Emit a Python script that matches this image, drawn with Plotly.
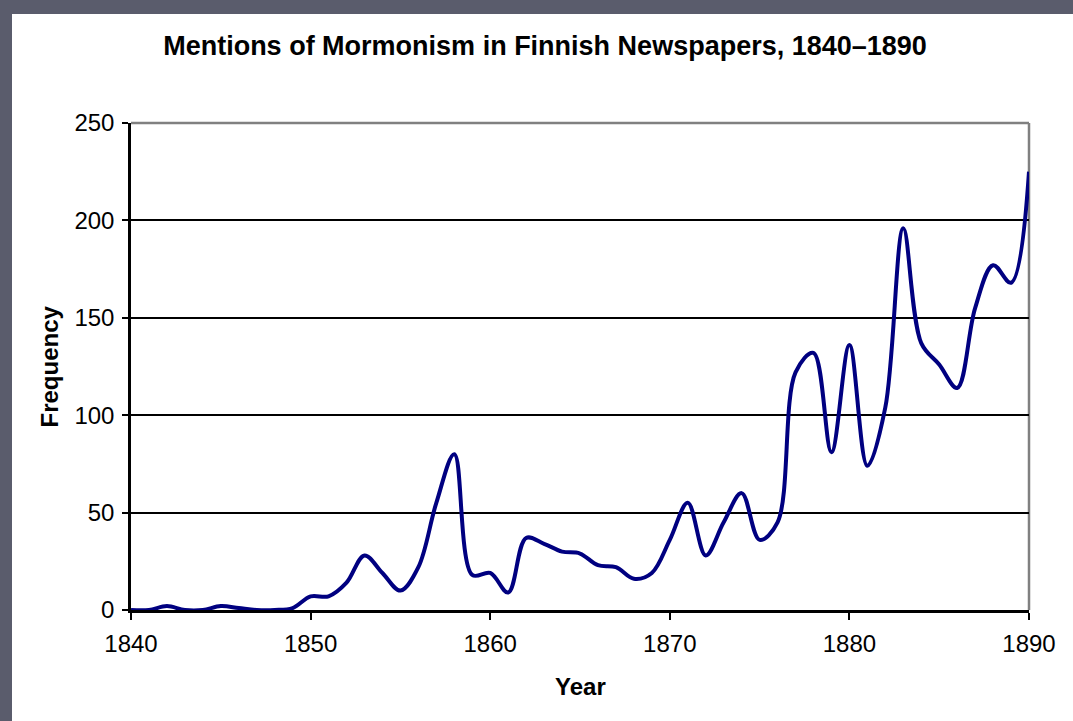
import plotly.graph_objects as go

years = list(range(1840, 1891))
frequency = [0, 0, 2, 0, 0, 2, 1, 0, 0, 1,
             7, 7, 14, 28, 19, 10, 22, 55, 80, 18,
             19, 9, 37, 34, 30, 29, 23, 22, 16, 19,
             36, 55, 28, 45, 60, 36, 45, 122, 132, 81,
             136, 74, 104, 196, 137, 126, 114, 155, 177, 168,
             225]

x_ticks = [1840, 1850, 1860, 1870, 1880, 1890]
y_ticks = [0, 50, 100, 150, 200, 250]

W, H = 1073, 721
L, R, T, B = 131, 44, 123, 111
pw, ph = W - L - R, H - T - B

def px(xp):
    return (xp - L) / pw

def py(yp):
    return (H - B - yp) / ph

fig = go.Figure()
fig.add_trace(go.Scatter(
    x=years, y=frequency, mode="lines",
    line=dict(color="#000080", width=4, shape="spline", smoothing=1.0),
    hoverinfo="x+y", showlegend=False,
))

font_family = "Liberation Sans, Arial, sans-serif"

fig.update_layout(
    width=W, height=H,
    margin=dict(l=L, r=R, t=T, b=B),
    paper_bgcolor="white", plot_bgcolor="white",
    font=dict(family=font_family, color="black"),
    title=dict(
        text="<b>Mentions of Mormonism in Finnish Newspapers, 1840\u20131890</b>",
        x=545 / W, xref="container", xanchor="center",
        y=1 - 46 / H, yref="container", yanchor="middle",
        font=dict(size=27, family=font_family, color="black"),
    ),
    xaxis=dict(
        range=[1840, 1890], tickvals=x_ticks, ticktext=[str(v) for v in x_ticks],
        showgrid=False, zeroline=False,
        showline=True, linecolor="black", linewidth=2.5,
        ticks="outside", ticklen=7, tickwidth=2, tickcolor="black",
        tickfont=dict(size=24, family=font_family, color="black"),
        ticklabelstandoff=3,
        fixedrange=True,
    ),
    yaxis=dict(
        range=[0, 250], tickvals=y_ticks,
        showgrid=True, gridcolor="black", gridwidth=2,
        zeroline=False,
        showline=True, linecolor="black", linewidth=2.5,
        ticks="outside", ticklen=6, tickwidth=2, tickcolor="black",
        tickfont=dict(size=24, family=font_family, color="black"),
        ticklabelstandoff=3,
        fixedrange=True,
    ),
    shapes=[
        # slide border strips
        dict(type="rect", xref="paper", yref="paper",
             x0=px(0), x1=px(12), y0=py(H), y1=py(0),
             fillcolor="#5a5c6c", line=dict(width=0), layer="below"),
        dict(type="rect", xref="paper", yref="paper",
             x0=px(0), x1=px(W), y0=py(14), y1=py(0),
             fillcolor="#5a5c6c", line=dict(width=0), layer="below"),
        # gray plot border top and right
        dict(type="line", xref="paper", yref="paper",
             x0=0, x1=1, y0=1, y1=1,
             line=dict(color="#808080", width=2.5), layer="above"),
        dict(type="line", xref="paper", yref="paper",
             x0=1, x1=1, y0=0, y1=1,
             line=dict(color="#808080", width=2.5), layer="below"),
    ],
    annotations=[
        dict(text="<b>Year</b>", xref="paper", yref="paper",
             x=0.5, y=py(686), xanchor="center", yanchor="middle",
             showarrow=False, font=dict(size=24, family=font_family, color="black")),
        dict(text="<b>Frequency</b>", xref="paper", yref="paper",
             x=px(49), y=0.5, xanchor="center", yanchor="middle", textangle=-90,
             showarrow=False, font=dict(size=24, family=font_family, color="black")),
    ],
)

fig.write_html(
    "out.html",
    config={"displayModeBar": False},
    post_script="document.body.style.margin='0px';document.body.style.overflow='hidden';",
)
